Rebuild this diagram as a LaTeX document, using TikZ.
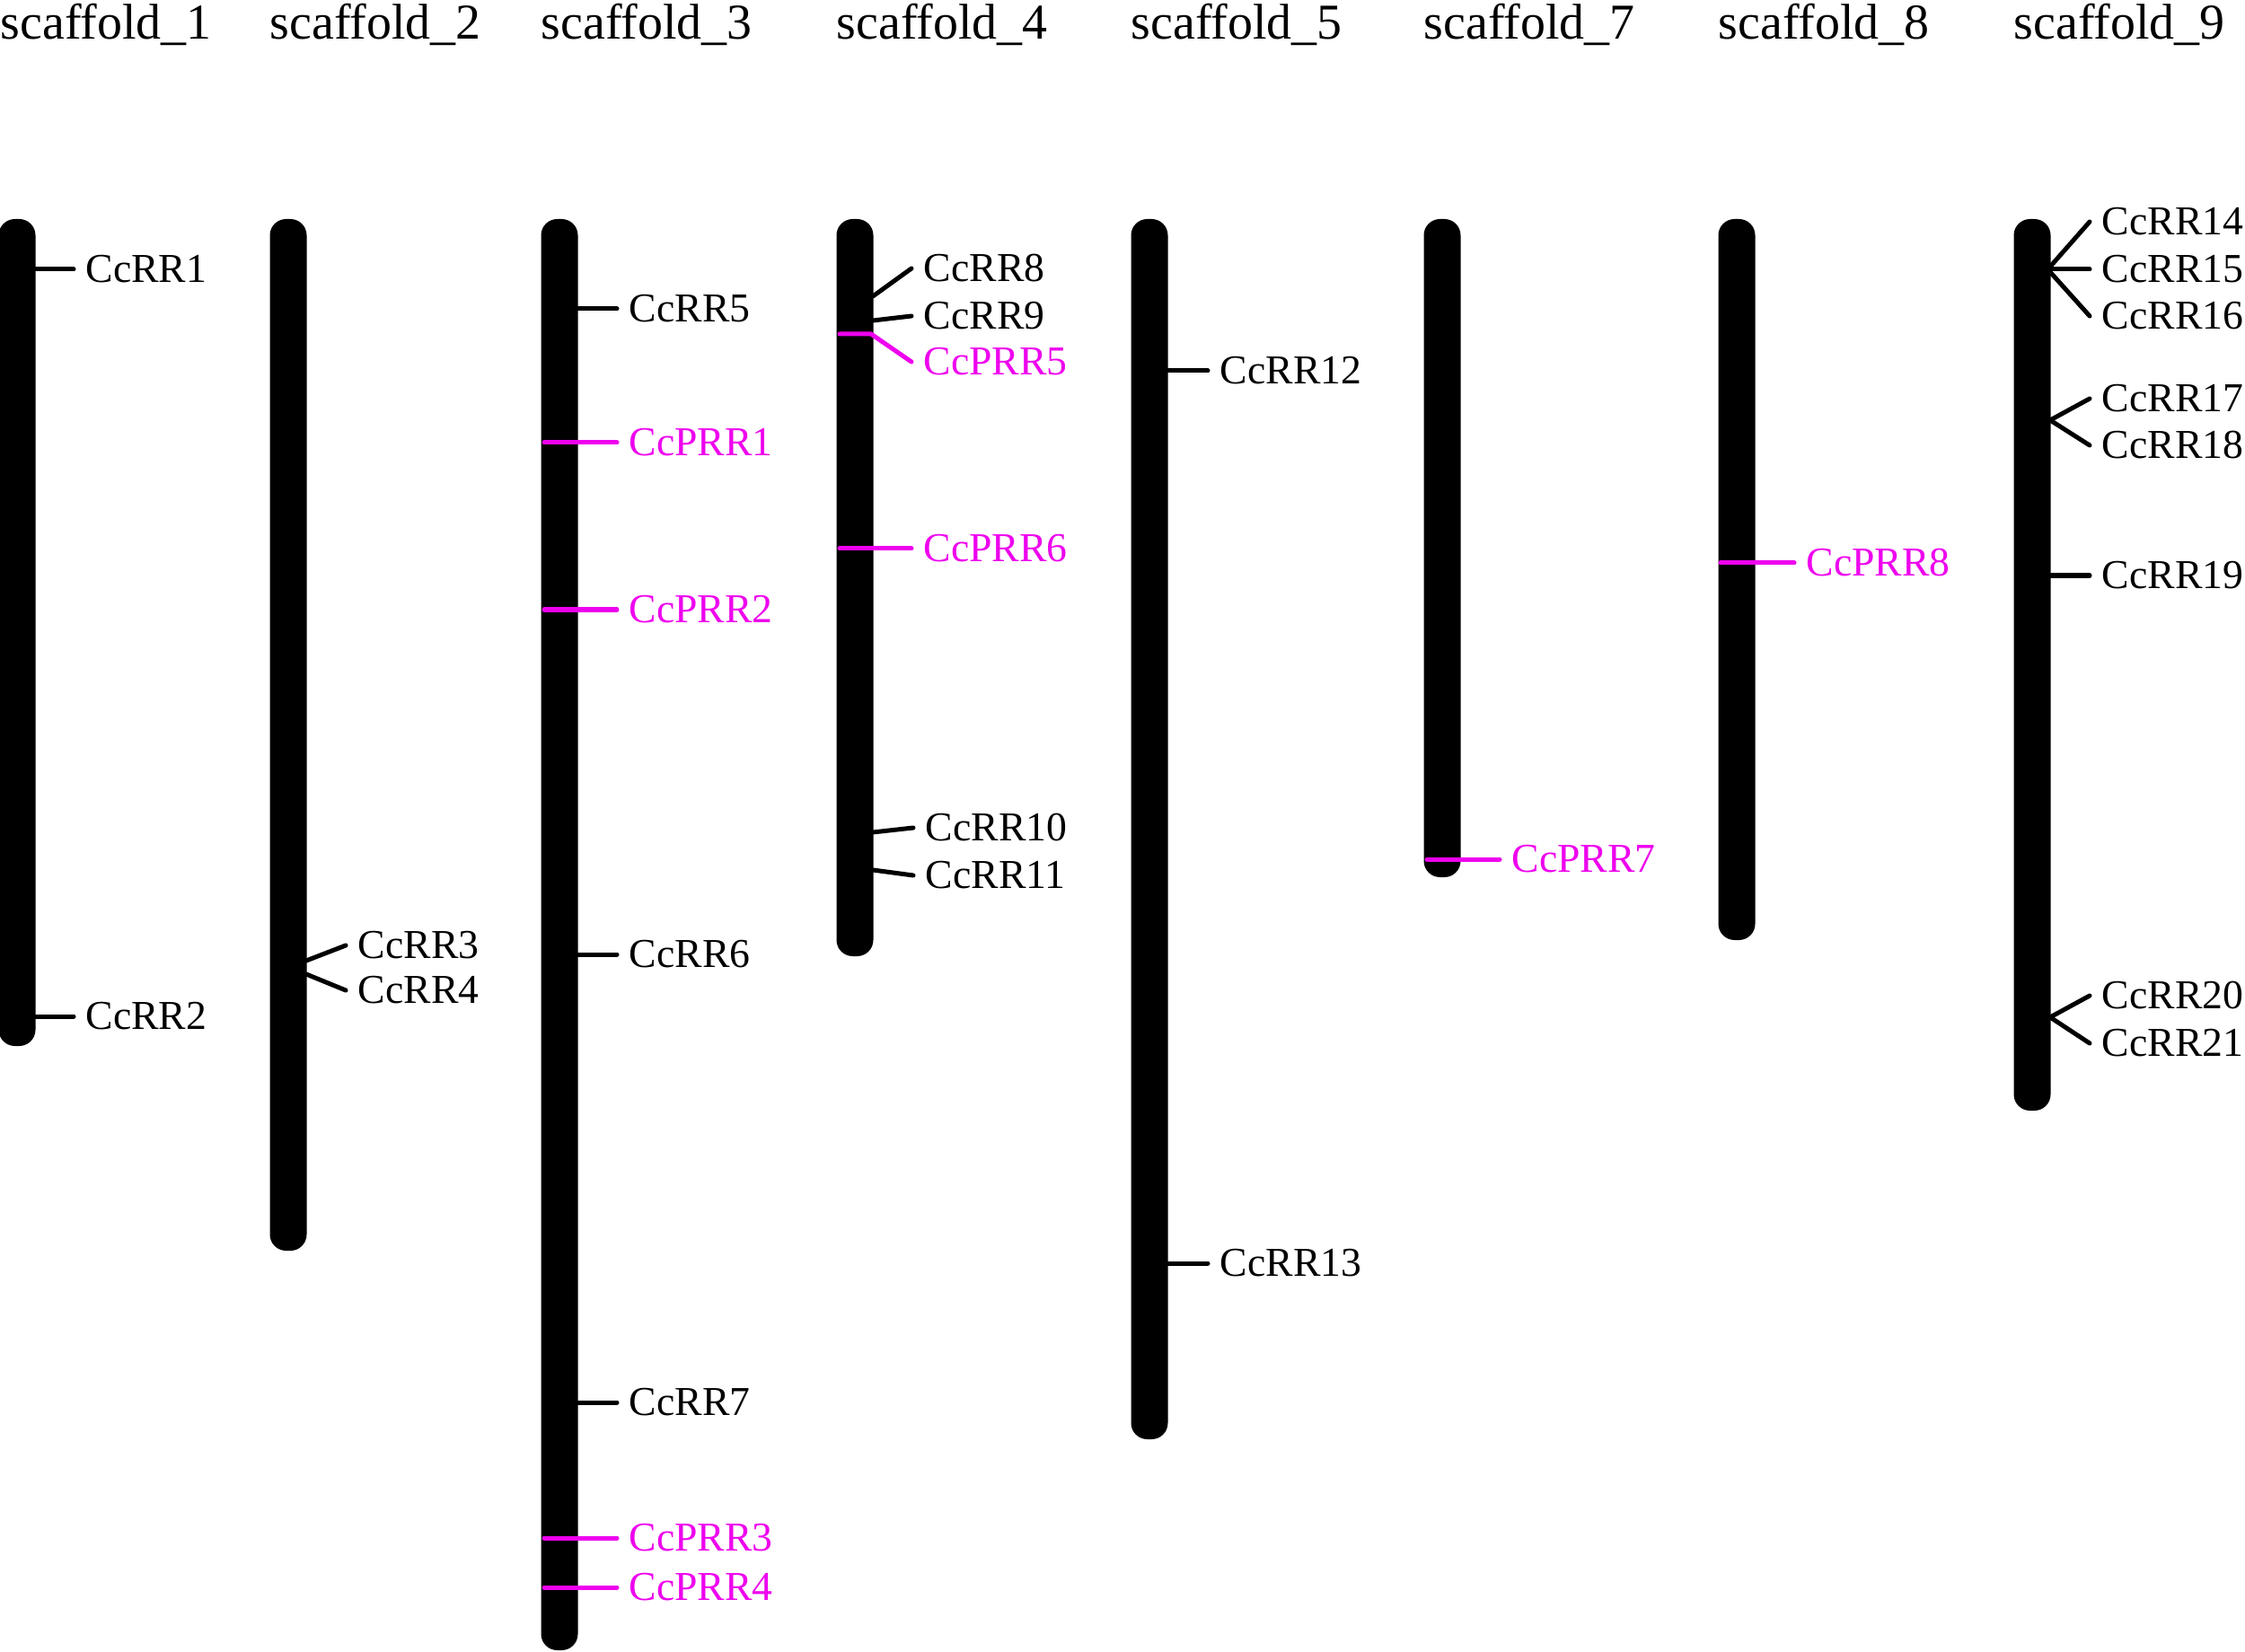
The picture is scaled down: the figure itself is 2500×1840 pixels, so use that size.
\documentclass[tikz,border=0pt]{standalone}
\usepackage{fontspec}
\setmainfont{Liberation Serif}
\definecolor{pmag}{RGB}{238,0,238}
\begin{document}
\begin{tikzpicture}[x=0.01cm,y=-0.01cm,
  lbl/.style={anchor=west,inner xsep=0.13cm,inner ysep=0pt,font=\fontsize{13}{15}\selectfont},
  plbl/.style={lbl,text=pmag},
  ttl/.style={anchor=base west,inner sep=0pt,font=\fontsize{15.9}{18}\selectfont},
  tick/.style={line width=0.05cm,line cap=round,line join=round},
  ptick/.style={tick,draw=pmag},
  bar/.style={fill=black,rounded corners=0.18cm}]
\useasboundingbox (0,0) rectangle (2500,1840);

% titles
\node[ttl] (t1) at (0,44)    {scaffold\_1};
\node[ttl] (t2) at (300,44)  {scaffold\_2};
\node[ttl] (t3) at (602,44)  {scaffold\_3};
\node[ttl] (t4) at (931,44)  {scaffold\_4};
\node[ttl] (t5) at (1259,44) {scaffold\_5};
\node[ttl] (t7) at (1585,44) {scaffold\_7};
\node[ttl] (t8) at (1913,44) {scaffold\_8};
\node[ttl] (t9) at (2242,44) {scaffold\_9};

% chromosome bars
\fill[bar] (-1.5,244) rectangle (39.5,1165);
\fill[bar] (300.5,244) rectangle (341.5,1393);
\fill[bar] (602.5,244) rectangle (643.5,1838);
\fill[bar] (931.5,244) rectangle (972.5,1065);
\fill[bar] (1259.5,244) rectangle (1300.5,1603);
\fill[bar] (1585.5,244) rectangle (1626.5,977);
\fill[bar] (1913.5,244) rectangle (1954.5,1047);
\fill[bar] (2242.5,244) rectangle (2283.5,1237);

% scaffold_1
\node[lbl] (rr1) at (82,300) {CcRR1};
\node[lbl] (rr2) at (82,1132) {CcRR2};
\draw[tick] (39,300) -- (rr1.west);
\draw[tick] (39,1132) -- (rr2.west);

% scaffold_2
\node[lbl] (rr3) at (385,1053) {CcRR3};
\node[lbl] (rr4) at (385,1103) {CcRR4};
\draw[tick] (341,1070) -- (rr3.west);
\draw[tick] (341,1085) -- (rr4.west);

% scaffold_3
\node[lbl] (rr5) at (687,344) {CcRR5};
\node[plbl] (prr1) at (687,493) {CcPRR1};
\node[plbl] (prr2) at (687,679) {CcPRR2};
\node[lbl] (rr6) at (687,1063) {CcRR6};
\node[lbl] (rr7) at (687,1562) {CcRR7};
\node[plbl] (prr3) at (687,1713) {CcPRR3};
\node[plbl] (prr4) at (687,1768) {CcPRR4};
\draw[tick] (643,344) -- (rr5.west);
\draw[ptick] (606,493) -- (prr1.west);
\draw[ptick] (606,679) -- (prr2.west);
\draw[tick] (643,1063) -- (rr6.west);
\draw[tick] (643,1562) -- (rr7.west);
\draw[ptick] (606,1713) -- (prr3.west);
\draw[ptick] (606,1768) -- (prr4.west);

% scaffold_4
\node[lbl] (rr8) at (1015,299) {CcRR8};
\node[lbl] (rr9) at (1015,352) {CcRR9};
\node[plbl] (prr5) at (1015,403) {CcPRR5};
\node[plbl] (prr6) at (1015,611) {CcPRR6};
\node[lbl] (rr10) at (1017,922) {CcRR10};
\node[lbl] (rr11) at (1017,975) {CcRR11};
\draw[tick] (972,330) -- (rr8.west);
\draw[tick] (972,357) -- (rr9.west);
\draw[ptick] (935,372) -- (970,372) -- (prr5.west);
\draw[ptick] (935,611) -- (prr6.west);
\draw[tick] (972,927) -- (rr10.west);
\draw[tick] (972,969) -- (rr11.west);

% scaffold_5
\node[lbl] (rr12) at (1345,413) {CcRR12};
\node[lbl] (rr13) at (1345,1407) {CcRR13};
\draw[tick] (1300,413) -- (rr12.west);
\draw[tick] (1300,1407) -- (rr13.west);

% scaffold_7
\node[plbl] (prr7) at (1670,957) {CcPRR7};
\draw[ptick] (1589,957) -- (prr7.west);

% scaffold_8
\node[plbl] (prr8) at (1998,627) {CcPRR8};
\draw[ptick] (1916,627) -- (prr8.west);

% scaffold_9
\node[lbl] (rr14) at (2327,247) {CcRR14};
\node[lbl] (rr15) at (2327,300) {CcRR15};
\node[lbl] (rr16) at (2327,352) {CcRR16};
\node[lbl] (rr17) at (2327,444) {CcRR17};
\node[lbl] (rr18) at (2327,496) {CcRR18};
\node[lbl] (rr19) at (2327,641) {CcRR19};
\node[lbl] (rr20) at (2327,1109) {CcRR20};
\node[lbl] (rr21) at (2327,1162) {CcRR21};
\draw[tick] (2283,297) -- (rr14.west);
\draw[tick] (2283,300) -- (rr15.west);
\draw[tick] (2283,303) -- (rr16.west);
\draw[tick] (2283,468) -- (rr17.west);
\draw[tick] (2283,468) -- (rr18.west);
\draw[tick] (2283,641) -- (rr19.west);
\draw[tick] (2283,1133) -- (rr20.west);
\draw[tick] (2283,1133) -- (rr21.west);
\end{tikzpicture}
\end{document}
